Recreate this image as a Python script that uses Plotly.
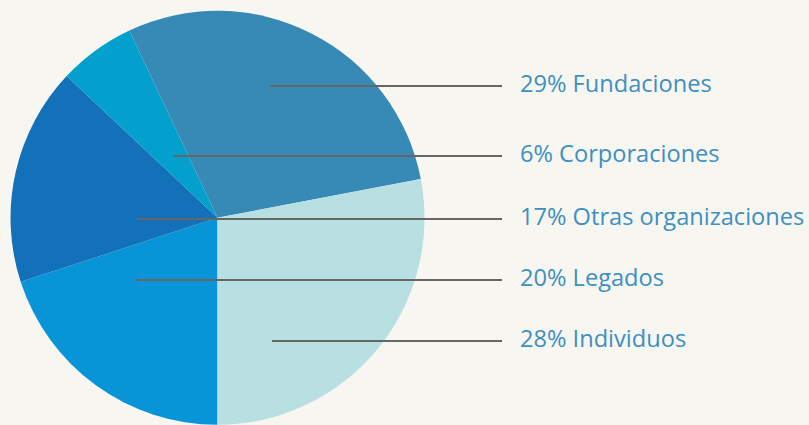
import plotly.graph_objects as go

categories = ["Legados", "Otras organizaciones", "Corporaciones", "Fundaciones", "Individuos"]
values = [20, 17, 6, 29, 28]
colors = ["#0795d8", "#1271b8", "#039fcd", "#378ab5", "#b8e0e2"]

# label layout (display order top to bottom) and leader line starts (pixels)
label_order = ["Fundaciones", "Corporaciones", "Otras organizaciones", "Legados", "Individuos"]
label_y_px = [86, 156, 219, 280, 341]
line_x0_px = [270, 173, 137, 136, 272]

W, H = 809, 425

fig = go.Figure()
fig.add_trace(go.Pie(
    labels=categories,
    values=values,
    sort=False,
    direction="clockwise",
    rotation=180,
    marker=dict(colors=colors, line=dict(width=0)),
    textinfo="none",
    hoverinfo="label+percent",
    showlegend=False,
    domain=dict(x=[0.0130, 0.5247], y=[0.0, 0.975]),
))

val_map = dict(zip(categories, values))
shapes = []
annotations = []
for name, ypx, x0 in zip(label_order, label_y_px, line_x0_px):
    yf = 1 - ypx / H
    shapes.append(dict(type="line", xref="paper", yref="paper",
                       x0=x0 / W, x1=502 / W, y0=yf, y1=yf,
                       line=dict(color="#666666", width=2)))
    annotations.append(dict(xref="paper", yref="paper", x=518 / W, y=yf + 3 / H,
                            xanchor="left", yanchor="middle", showarrow=False,
                            text=f"{val_map[name]}% {name}",
                            font=dict(family="'Open Sans', sans-serif", size=23.6, color="#3d90c0")))

fig.update_layout(
    width=W, height=H,
    margin=dict(l=0, r=0, t=0, b=0),
    paper_bgcolor="#f8f6f0",
    plot_bgcolor="#f8f6f0",
    shapes=shapes,
    annotations=annotations,
)

fig.write_html("out.html", config={"displayModeBar": False},
               post_script="document.body.style.margin='0';document.body.style.background='#f8f6f0';")
